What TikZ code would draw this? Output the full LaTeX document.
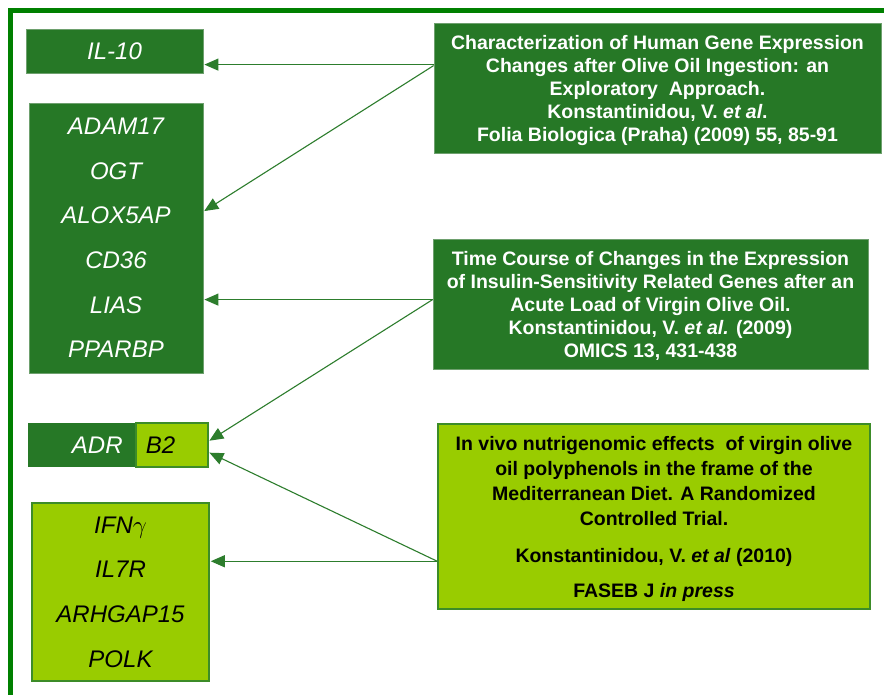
\documentclass[tikz,border=0pt]{standalone}
\usepackage{fontspec}
\setmainfont{Liberation Sans}
\usetikzlibrary{arrows.meta,calc}
\definecolor{dkg}{RGB}{38,120,38}
\definecolor{ltg}{RGB}{153,204,0}
\definecolor{frameg}{RGB}{0,128,0}
\definecolor{arrg}{RGB}{45,125,45}
\definecolor{dkborder}{RGB}{110,160,110}
\definecolor{ltborder}{RGB}{60,140,40}
\begin{document}
\begin{tikzpicture}[x=1pt,y=-1pt,
 darkbox/.style={fill=dkg,draw=dkborder,line width=0.8pt,inner sep=0pt,text=white,align=center},
 lightbox/.style={fill=ltg,draw=ltborder,line width=1.5pt,inner sep=0pt,text=black,align=center},
 gene/.style={font=\fontsize{24}{44.6}\selectfont\itshape},
 ref/.style={font=\fontsize{19.5}{23}\selectfont\bfseries},
 link/.style={draw=arrg,line width=1.1pt,shorten >=1pt,-{Triangle[length=14pt,width=12pt]}}]
\useasboundingbox (0,0) rectangle (884,694);
\fill[white] (0,0) rectangle (884,694);
\draw[frameg,line width=5pt,line join=miter] (10.5,700) -- (10.5,10.5) -- (890,10.5);

\node[darkbox,gene,minimum width=177,minimum height=44] (il10) at (114.5,51) {IL-10};
\node[darkbox,gene,text depth=-2pt,minimum width=174,minimum height=270] (genes) at (116,238)
  {ADAM17\\OGT\\ALOX5AP\\CD36\\LIAS\\PPARBP};
\node[darkbox,gene,draw=none,minimum width=107,minimum height=44,text width=83,align=right,anchor=east] (adr) at (135,445) {ADR};
\node[lightbox,gene,minimum width=72,minimum height=44,text width=52,align=left,anchor=west] (b2) at (adr.east) {B2};
\node[lightbox,gene,text depth=-6pt,minimum width=177,minimum height=178] (ifn) at (120.5,592)
  {IFN$\gamma$\\IL7R\\ARHGAP15\\POLK};

\node[darkbox,ref,text depth=-1.9pt,minimum width=447,minimum height=130] (r1) at (657.5,88)
  {Characterization of Human Gene Expression\\Changes after Olive Oil Ingestion: an\\Exploratory\ \ Approach.\\Konstantinidou, V. \textit{et al}.\\Folia Biologica (Praha) (2009) 55, 85-91};
\node[darkbox,ref,text depth=-1.2pt,minimum width=435,minimum height=130] (r2) at (650.5,304)
  {Time Course of Changes in the Expression\\of Insulin-Sensitivity Related Genes after an\\Acute Load of Virgin Olive Oil.\\Konstantinidou, V. \textit{et al.} (2009)\\OMICS 13, 431-438};
\node[lightbox,ref,font=\fontsize{19.5}{25}\selectfont\bfseries,text depth=-3.9pt,minimum width=432,minimum height=185] (r3) at (654,516.5)
  {In vivo nutrigenomic effects\ \ of virgin olive\\oil polyphenols in the frame of the\\Mediterranean Diet. A Randomized\\Controlled Trial.\\[12pt]Konstantinidou, V. \textit{et al} (2010)\\[10pt]FASEB J \textit{in press}};

\coordinate (s1) at ($(r1.north west)+(0,42)$);
\coordinate (s1b) at ($(r1.north west)+(0,43)$);
\coordinate (s2) at ($(r2.north west)+(0,61)$);
\coordinate (s3) at ($(r3.north west)+(0,138)$);
\draw[link] (s1) -- (s1 -| il10.east);
\draw[link] (s1b) -- ($(genes.north east)+(0,109)$);
\draw[link] (s2) -- (s2 -| genes.east);
\draw[link] (s2) -- ($(b2.north east)+(0,19)$);
\draw[link] (s3) -- ($(b2.north east)+(0,30)$);
\draw[link] (s3) -- (s3 -| ifn.east);
\end{tikzpicture}
\end{document}
